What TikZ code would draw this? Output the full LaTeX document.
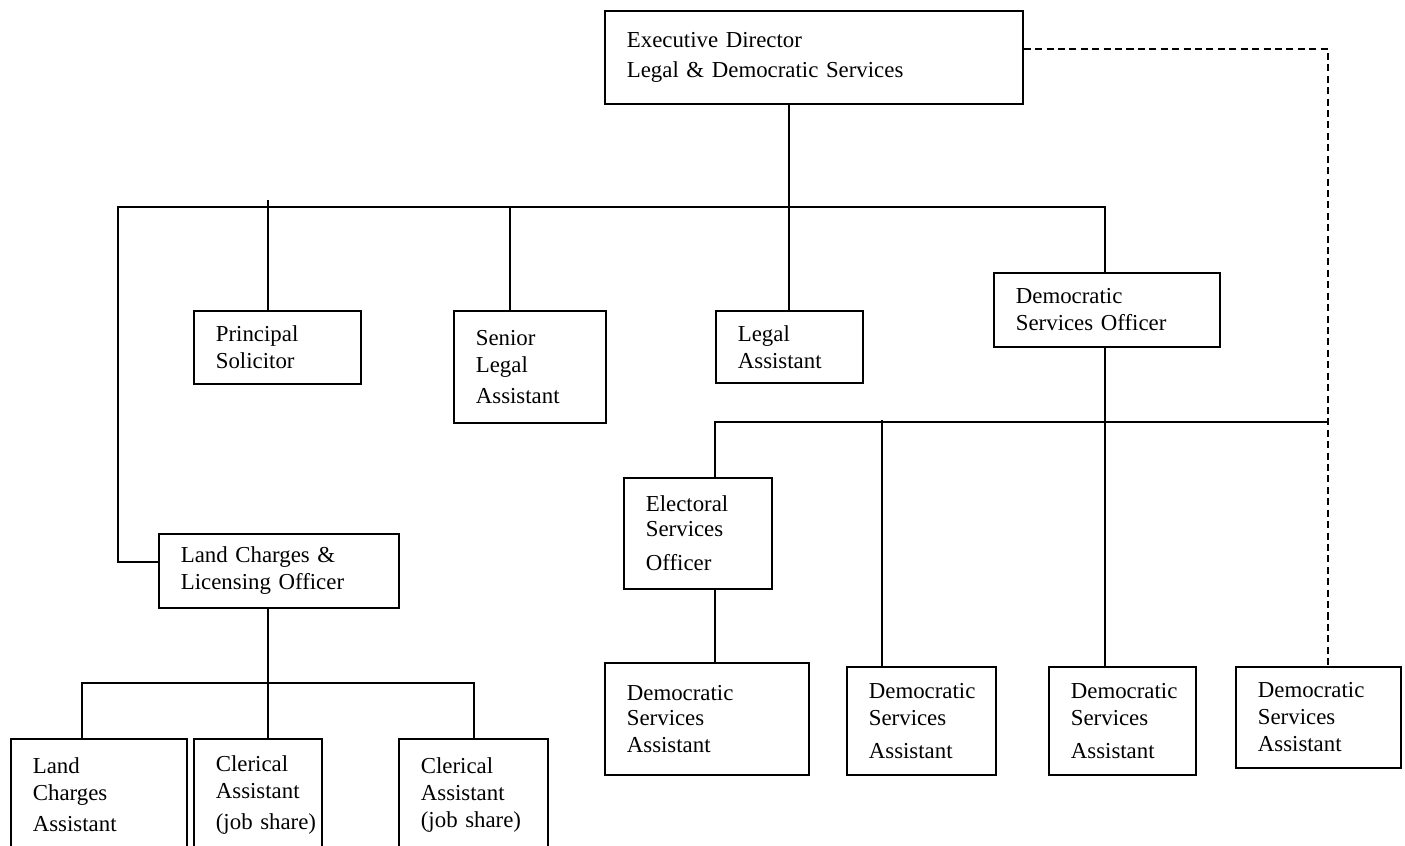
\documentclass[tikz,border=0pt]{standalone}
\usepackage{fontspec}
\setmainfont{Liberation Serif}
\newcommand\orgfont{\fontsize{13}{15.4}\selectfont}

\begin{document}
\begin{tikzpicture}[x=0.02cm,y=-0.02cm]
    \tikzset{
        post/.style={draw, line width=1pt, anchor=north west, align=left,
            inner xsep=0.44cm, inner ysep=0pt, font=\orgfont},
        link/.style={line width=1pt},
    }
    \useasboundingbox (0,0) rectangle (1405,845);
    \clip (0,0) rectangle (1405,845);

    % Director
    \node[post, minimum width=8.36cm, minimum height=1.86cm, text width=7.48cm] (exec) at (604,10)
        {Executive Director\\[2pt]Legal \& Democratic Services};

    % Second row
    \node[post, minimum width=3.34cm, minimum height=1.46cm, text width=2.46cm] (ps) at (193,310)
        {Principal\\Solicitor};
    \node[post, minimum width=3.04cm, minimum height=2.24cm, text width=2.16cm] (sla) at (453,310)
        {Senior\\Legal\\[2pt]Assistant};
    \node[post, minimum width=2.94cm, minimum height=1.44cm, text width=2.06cm] (la) at (715,310)
        {Legal\\Assistant};
    \node[post, minimum width=4.52cm, minimum height=1.48cm, text width=3.64cm] (dso) at (993,272)
        {Democratic\\Services Officer};

    % Land charges
    \node[post, minimum width=4.80cm, minimum height=1.48cm, text width=3.92cm] (lclo) at (158,533)
        {Land Charges \&\\Licensing Officer};
    \node[post, minimum width=3.52cm, minimum height=2.24cm, text width=2.64cm] (lca) at (10,738)
        {Land\\Charges\\[2pt]Assistant};
    \node[post, minimum width=2.56cm, minimum height=2.24cm, text width=1.68cm] (ca1) at (193,738)
        {Clerical\\Assistant\\[2pt]\mbox{(job share)}};
    \node[post, minimum width=2.98cm, minimum height=2.24cm, text width=2.10cm] (ca2) at (398,738)
        {Clerical\\Assistant\\(job share)};

    % Electoral / democratic services
    \node[post, minimum width=2.96cm, minimum height=2.22cm, text width=2.08cm] (eso) at (623,477)
        {Electoral\\[-1pt]Services\\[4pt]Officer};
    \node[post, minimum width=4.08cm, minimum height=2.24cm, text width=3.20cm] (dsa1) at (604,662)
        {Democratic\\[-1pt]Services\\Assistant};
    \node[post, minimum width=2.98cm, minimum height=2.16cm, text width=2.10cm] (dsa2) at (846,666)
        {Democratic\\Services\\[3pt]Assistant};
    \node[post, minimum width=2.94cm, minimum height=2.16cm, text width=2.06cm] (dsa3) at (1048,666)
        {Democratic\\Services\\[3pt]Assistant};
    \node[post, minimum width=3.30cm, minimum height=2.02cm, text width=2.42cm] (dsa4) at (1235,666)
        {Democratic\\Services\\Assistant};

    % Junctions
    \coordinate (barL) at (118,207);
    \coordinate (barR) at (1105,207);
    \coordinate (jPS) at (268,200);
    \coordinate (jSLA) at (510,207);
    \coordinate (bar2L) at (715,422);
    \coordinate (bar2R) at (1328,422);
    \coordinate (j2) at (882,420);
    \coordinate (bar3L) at (82,683);
    \coordinate (bar3M) at (268,683);
    \coordinate (bar3R) at (474,683);

    % Connectors
    \draw[link] (la.north |- exec.south) -- (la.north);
    \draw[link] ([yshift=0.18cm]lclo.west) -| (barL) -- (barR) -- (barR |- dso.north);
    \draw[link] (jPS) -- (jPS |- ps.north);
    \draw[link] (jSLA) -- (jSLA |- sla.north);
    \draw[link] (barR |- dso.south) -- (barR |- dsa3.north);
    \draw[link] (bar2L |- eso.north) -- (bar2L) -- (bar2R);
    \draw[link] (bar2L |- eso.south) -- (bar2L |- dsa1.north);
    \draw[link] (j2) -- (j2 |- dsa2.north);
    \draw[link, dash pattern=on 4pt off 2.5pt] ([yshift=0.17cm]exec.east) -| (bar2R |- dsa4.north);
    \draw[link] (bar3M |- lclo.south) -- (bar3M);
    \draw[link] (bar3L |- lca.north) -- (bar3L) -- (bar3R) -- (bar3R |- ca2.north);
    \draw[link] (bar3M) -- (bar3M |- ca1.north);
\end{tikzpicture}
\end{document}
